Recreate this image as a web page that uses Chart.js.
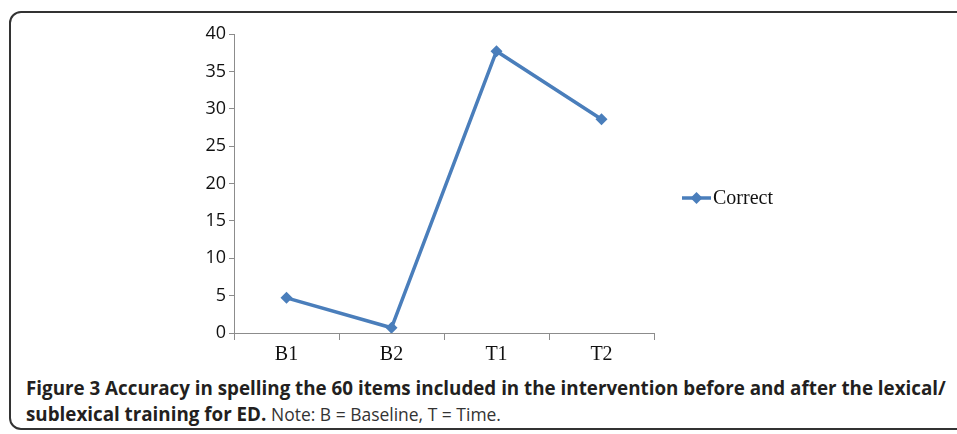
<!DOCTYPE html>
<html>
<head>
<meta charset="utf-8">
<script src="https://cdn.jsdelivr.net/npm/chart.js@4"></script>
<style>
  html, body { margin: 0; padding: 0; background: #fff; }
  body { width: 957px; height: 434px; position: relative; overflow: hidden; }
  .frame {
    position: absolute; left: 9px; top: 11px; width: 980px; height: 419px;
    border: 2px solid #333; border-radius: 12px; box-sizing: border-box;
  }
  .plot { position: absolute; left: 0; top: 0; width: 957px; height: 372px; }
  .caption {
    position: absolute; left: 26px; top: 375px; width: 930px;
    font-family: "Open Sans", sans-serif; font-size: 18.8px; line-height: 26px;
    color: #231f20; white-space: nowrap;
  }
  .caption b { font-weight: 700; }
  .caption span {
    display: inline-block; font-weight: 400; color: #333;
    transform: scaleX(0.93); transform-origin: left center;
  }
</style>
</head>
<body>
<div class="frame"></div>
<div class="plot"><canvas id="chart"></canvas></div>
<div class="caption">
  <b>Figure 3 Accuracy in spelling the 60 items included in the intervention before and after the lexical/</b><br>
  <b>sublexical training for ED.</b> <span>Note: B = Baseline, T = Time.</span>
</div>
<script>
// chart data
const categories = ['B1', 'B2', 'T1', 'T2'];
const correct = [4.7, 0.7, 37.7, 28.6];
const yTicks = [0, 5, 10, 15, 20, 25, 30, 35, 40];

const lineBlue = '#4a7ebb';
const axisGray = '#8c8c8c';

// legend drawn as line + diamond, like the original
const lineLegend = {
  id: 'lineLegend',
  afterDraw(chart) {
    const ctx = chart.ctx;
    const ds = chart.data.datasets[0];
    const x0 = 682, y = 198;
    ctx.save();
    ctx.strokeStyle = ds.borderColor;
    ctx.lineWidth = 3.5;
    ctx.beginPath();
    ctx.moveTo(x0, y);
    ctx.lineTo(x0 + 29, y);
    ctx.stroke();
    ctx.fillStyle = ds.borderColor;
    ctx.beginPath();
    ctx.moveTo(x0 + 14.5, y - 6);
    ctx.lineTo(x0 + 20.5, y);
    ctx.lineTo(x0 + 14.5, y + 6);
    ctx.lineTo(x0 + 8.5, y);
    ctx.closePath();
    ctx.fill();
    ctx.fillStyle = '#111';
    ctx.font = "20px 'Liberation Serif', serif";
    ctx.textBaseline = 'middle';
    ctx.fillText(ds.label, x0 + 31, y + 1);
    ctx.restore();
  }
};

new Chart(document.getElementById('chart').getContext('2d'), {
  type: 'line',
  data: {
    labels: categories,
    datasets: [{
      label: 'Correct',
      data: correct,
      borderColor: lineBlue,
      backgroundColor: lineBlue,
      borderWidth: 3.5,
      tension: 0,
      pointStyle: 'rectRot',
      pointRadius: 6,
      pointBackgroundColor: lineBlue,
      pointBorderWidth: 0
    }]
  },
  options: {
    responsive: true,
    maintainAspectRatio: false,
    animation: false,
    layout: { padding: { left: 0, top: 34, right: 303, bottom: 0 } },
    plugins: {
      legend: { display: false },
      tooltip: { enabled: false }
    },
    scales: {
      x: {
        offset: true,
        grid: { display: true, offset: true, drawOnChartArea: false, drawTicks: true, tickLength: 7, color: axisGray },
        border: { display: true, color: axisGray, width: 1 },
        ticks: { color: '#111', padding: 3, font: { family: "'Liberation Serif', serif", size: 20 } },
        afterFit(scale) { scale.height = 39; }
      },
      y: {
        min: 0,
        max: 40,
        afterBuildTicks(scale) { scale.ticks = yTicks.map(v => ({ value: v })); },
        grid: { display: true, drawOnChartArea: false, drawTicks: true, tickLength: 5, color: axisGray },
        border: { display: true, color: axisGray, width: 1 },
        ticks: { color: '#111', padding: 3, font: { family: "'Open Sans', sans-serif", size: 18 } },
        afterFit(scale) { scale.width = 234; }
      }
    }
  },
  plugins: [lineLegend]
});
</script>
</body>
</html>
